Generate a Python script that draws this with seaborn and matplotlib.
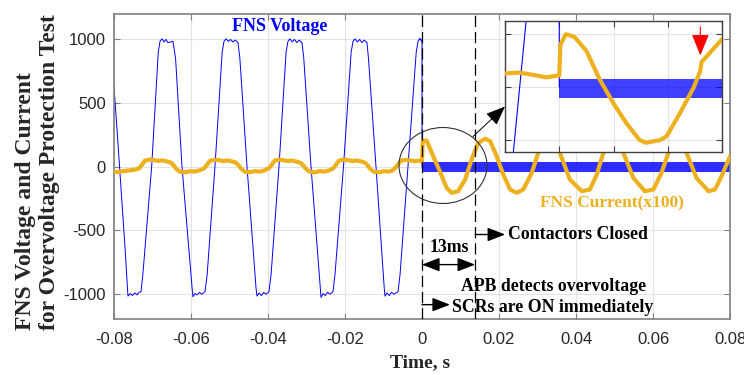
import numpy as np
import pandas as pd
import matplotlib
matplotlib.use("Agg")
import matplotlib.pyplot as plt
from matplotlib.patches import Ellipse
import seaborn as sns

# ---------------- data ----------------
volt_t = [-0.0800, -0.0790, -0.0780, -0.0770, -0.0765,
          -0.07636, -0.0758, -0.0752, -0.0746, -0.0740, -0.0735, -0.07299,
          -0.0725, -0.07021, -0.0685, -0.06805,
          -0.0675, -0.0670, -0.0665, -0.0660, -0.06468,
          -0.0640, -0.06234, -0.0597,
          -0.05948, -0.0590, -0.0584, -0.0578, -0.0572, -0.05636,
          -0.0558, -0.05377, -0.0519, -0.05143,
          -0.0509, -0.0503, -0.0497, -0.0491, -0.0485, -0.04779,
          -0.0473, -0.04545, -0.0431,
          -0.04286, -0.0423, -0.0417, -0.0411, -0.0405, -0.03974,
          -0.0392, -0.03714, -0.0353, -0.03481,
          -0.0343, -0.0337, -0.0331, -0.0325, -0.0319, -0.03117,
          -0.0307, -0.02883, -0.0264,
          -0.02623, -0.0257, -0.0251, -0.0245, -0.0239, -0.02312,
          -0.0226, -0.02039, -0.0184, -0.01792,
          -0.0174, -0.0168, -0.0162, -0.0156, -0.0150, -0.01429,
          -0.0139, -0.01195, -0.0098,
          -0.00961, -0.0091, -0.0085, -0.0079, -0.0073, -0.00623,
          -0.0057, -0.00364, -0.0015, -0.00104,
          -0.0006, -0.0002, 0.0, 0.0]
volt_v = [630, 200, -250, -700, -960,
          -1020, -1000, -1015, -995, -1010, -990, -985,
          -850, 0, 900, 985,
          1005, 980, 1000, 975, 985,
          850, 0, -960,
          -1025, -1000, -1010, -990, -1005, -985,
          -850, 0, 900, 985,
          1005, 985, 1000, 980, 995, 975,
          850, 0, -960,
          -1020, -995, -1015, -990, -1005, -985,
          -850, 0, 900, 985,
          1005, 980, 1000, 975, 995, 975,
          850, 0, -960,
          -1030, -1000, -1015, -990, -1005, -985,
          -850, 0, 900, 985,
          1005, 980, 1000, 975, 995, 975,
          850, 0, -960,
          -1020, -995, -1015, -990, -1005, -985,
          -850, 0, 900, 985,
          1010, 990, 1000, 0]

# noise band of the voltage after t = 0
noise_t = [0.0, 0.08]
noise_lo = [-40, -40]
noise_hi = [38, 38]

cur_t = [-0.0800, -0.0790, -0.0775, -0.0760, -0.0745,
         -0.0735, -0.0727, -0.0720, -0.0708, -0.0695, -0.0685, -0.0675, -0.0662, -0.0652,
         -0.0645, -0.0638, -0.0628, -0.0615, -0.0603, -0.0590, -0.0578,
         -0.0566, -0.0558, -0.0551, -0.0539, -0.0526, -0.0516, -0.0506, -0.0493, -0.0483,
         -0.0476, -0.0469, -0.0459, -0.0446, -0.0434, -0.0421, -0.0409,
         -0.0398, -0.0390, -0.0383, -0.0371, -0.0358, -0.0348, -0.0338, -0.0325, -0.0315,
         -0.0308, -0.0301, -0.0291, -0.0278, -0.0266, -0.0253, -0.0241,
         -0.0231, -0.0223, -0.0216, -0.0204, -0.0191, -0.0181, -0.0171, -0.0158, -0.0148,
         -0.0141, -0.0134, -0.0124, -0.0111, -0.0099, -0.0086, -0.0076,
         -0.0070, -0.0062, -0.0055, -0.0043, -0.0030, -0.0020, -0.0010, -0.0002,
         0.0000, 0.0002, 0.0012, 0.0029, 0.0047, 0.0064, 0.0077, 0.0094, 0.0112, 0.0129,
         0.0146, 0.0164, 0.0177, 0.0194, 0.0211, 0.0229, 0.0246, 0.0263, 0.0285, 0.0302,
         0.0318, 0.0335, 0.0345, 0.0358, 0.0384, 0.0415, 0.0436, 0.0454, 0.0471,
         0.0486, 0.0500, 0.0510, 0.0523, 0.0549, 0.0579, 0.0601, 0.0622, 0.0640,
         0.0655, 0.0668, 0.0677, 0.0687, 0.0713, 0.0744, 0.0761, 0.0778, 0.0800]
cur_v = [-42, -44, -36, -30, -25,
         -15, 15, 45, 55, 50, 44, 48, 40, 30,
         10, -20, -42, -45, -37, -40, -30,
         -15, 15, 45, 53, 50, 42, 47, 40, 30,
         8, -20, -43, -44, -36, -40, -30,
         -15, 15, 45, 55, 48, 43, 47, 38, 28,
         8, -20, -42, -46, -36, -40, -30,
         -15, 15, 45, 55, 50, 43, 47, 40, 30,
         8, -20, -43, -45, -37, -40, -30,
         -12, 18, 45, 52, 48, 42, 46, 42,
         42, 200, 205, 81, -42, -168, -207, -194, -102, 55,
         186, 218, 200, 81, -63, -181, -207, -181, -50, 108,
         195, 215, 200, 108, -102, -194, -181, -63, 108,
         195, 215, 195, 108, -90, -194, -181, -50, 108,
         195, 215, 195, 108, -90, -194, -181, -76, 80]

# inset (zoomed view) data
ins_volt_t = [-0.0046, -0.0027, -0.0001, 0.0, 0.0]
ins_volt_v = [-400, 400, 1000, 1000, 0]
ins_noise_t = [0.0, 0.015]
ins_noise_lo = [-42, -42]
ins_noise_hi = [30, 30]
ins_cur_t = [-0.0050, -0.0037, -0.0025, -0.0012, -0.0001, 0.0000, 0.0001, 0.0006, 0.0014,
             0.0025, 0.0037, 0.0050, 0.0062, 0.0074, 0.0080, 0.0093, 0.0099, 0.0111,
             0.0124, 0.0130, 0.0131, 0.0139, 0.0150]
ins_cur_v = [52, 55, 47, 37, 44, 44, 160, 200, 190,
             137, 31, -62, -137, -200, -210, -200, -185, -100,
             0, 62, 94, 131, 181]

xticks = [-0.08, -0.06, -0.04, -0.02, 0, 0.02, 0.04, 0.06, 0.08]
xtick_labels = ["-0.08", "-0.06", "-0.04", "-0.02", "0", "0.02", "0.04", "0.06", "0.08"]
yticks = [-1000, -500, 0, 500, 1000]
ytick_labels = ["-1000", "-500", "0", "500", "1000"]
ins_xticks = [-0.005, 0, 0.005, 0.01, 0.015]
ins_yticks = [-200, 0, 200]

# ---------------- style ----------------
sns.set_style("ticks")
plt.rcParams['font.family'] = ['Liberation Sans', 'DejaVu Sans']
plt.rcParams['axes.unicode_minus'] = False

BLUE = "#0000FF"
ORANGE = "#EDB120"
SPINE = "#808080"
GRID = "#E3E3E3"
SERIF = ['Liberation Serif', 'DejaVu Serif']
ANN = 12.8

fig = plt.figure(figsize=(7.44, 3.75), dpi=100)
ax = fig.add_axes([0.1532, 0.1493, 0.8280, 0.8133])

sns.lineplot(x=volt_t, y=volt_v, sort=False, estimator=None, color=BLUE, lw=0.7, ax=ax, zorder=2)
ax.fill_between(noise_t, noise_lo, noise_hi, color=BLUE, lw=0, alpha=0.82, zorder=2.5)
sns.lineplot(x=cur_t, y=cur_v, sort=False, estimator=None, color=ORANGE, lw=3.0, ax=ax, zorder=3)

ax.set_xlim(-0.08, 0.08)
ax.set_ylim(-1200, 1200)
ax.set_xticks(xticks)
ax.set_xticklabels(xtick_labels)
ax.set_yticks(yticks)
ax.set_yticklabels(ytick_labels)
ax.tick_params(direction='in', top=True, right=True, length=4, width=0.8, color=SPINE,
               labelsize=12, labelcolor='#262626')
ax.tick_params(axis='x', pad=9)
ax.tick_params(axis='y', pad=6)
ax.grid(True, color=GRID, lw=0.8, zorder=0)
ax.set_axisbelow(True)
for s in ax.spines.values():
    s.set_color(SPINE)
    s.set_linewidth(1.2)
ax.set_xlabel("")
ax.set_ylabel("")

# dashed event lines
ax.axvline(0.0, color='black', lw=0.9, ls=(0, (9, 4)), zorder=4)
ax.axvline(0.0138, color='black', lw=0.9, ls=(0, (9, 4)), zorder=4)

# texts
ax.text(-0.0370, 1102, "FNS Voltage", color=BLUE, family=SERIF, weight='bold',
        fontsize=13, ha='center', va='center', zorder=6)
ax.text(0.0494, -291, "FNS Current(x100)", color=ORANGE, family=SERIF, weight='bold',
        fontsize=12.5, ha='center', va='center', zorder=6)
ax.text(0.0223, -535, "Contactors Closed", color='black', family=SERIF, weight='bold',
        fontsize=ANN, ha='left', va='center', zorder=6)
ax.text(0.0070, -638, "13ms", color='black', family=SERIF, weight='bold',
        fontsize=ANN, ha='center', va='center', zorder=6)
ax.text(0.0343, -945, "APB detects overvoltage", color='black', family=SERIF, weight='bold',
        fontsize=ANN, ha='center', va='center', zorder=6)
ax.text(0.0340, -1110, "SCRs are ON immediately", color='black', family=SERIF, weight='bold',
        fontsize=ANN, ha='center', va='center', zorder=6)

arrow_kw = dict(arrowstyle="-|>,head_length=0.9,head_width=0.35", color='black', lw=1.0,
                mutation_scale=12, shrinkA=0, shrinkB=0)
ax.annotate("", xy=(0.0216, -535), xytext=(0.0138, -535), arrowprops=arrow_kw, zorder=6)
ax.annotate("", xy=(0.00727, -1087), xytext=(0.0, -1087), arrowprops=arrow_kw, zorder=6)
ax.annotate("", xy=(0.0138, -772), xytext=(0.0, -772),
            arrowprops=dict(arrowstyle="<|-|>,head_length=0.9,head_width=0.35", color='black',
                            lw=1.0, mutation_scale=12, shrinkA=0, shrinkB=0), zorder=6)
ax.annotate("", xy=(0.02156, 472), xytext=(0.01325, 236),
            arrowprops=dict(arrowstyle="-|>,head_length=1.0,head_width=0.4", color='black',
                            lw=0.7, mutation_scale=12, shrinkA=0, shrinkB=0), zorder=6)
ax.add_patch(Ellipse((0.00545, 8), 0.02286, 598, fill=False, ec='#333333', lw=0.8, zorder=6))

# axis labels
fig.text(0.0349, 0.464, "FNS Voltage and Current", rotation=90, family=SERIF, weight='bold',
         fontsize=17, ha='center', va='center')
fig.text(0.0672, 0.540, "for Overvoltage Protection Test", rotation=90, family=SERIF,
         weight='bold', fontsize=17, ha='center', va='center')
fig.text(0.5645, 0.032, "Time, s", family=SERIF, weight='bold', fontsize=14,
         ha='center', va='center')

# ---------------- inset ----------------
axi = fig.add_axes([0.6788, 0.5947, 0.2917, 0.3493])
axi.set_facecolor('white')
sns.lineplot(x=ins_volt_t, y=ins_volt_v, sort=False, estimator=None, color=BLUE, lw=0.8,
             ax=axi, zorder=2)
axi.fill_between(ins_noise_t, ins_noise_lo, ins_noise_hi, color=BLUE, lw=0,
                 alpha=0.75, zorder=2.5)
sns.lineplot(x=ins_cur_t, y=ins_cur_v, sort=False, estimator=None, color=ORANGE, lw=3.0,
             ax=axi, zorder=3)
axi.set_xlim(-0.005, 0.015)
axi.set_ylim(-245, 250)
axi.set_xticks(ins_xticks)
axi.set_yticks(ins_yticks)
axi.set_xticklabels([])
axi.set_yticklabels([])
axi.set_xlabel("")
axi.set_ylabel("")
axi.tick_params(direction='in', top=True, right=True, length=4, width=0.8, color='#404040')
axi.grid(True, color=GRID, lw=0.8, zorder=0)
axi.set_axisbelow(True)
for s in axi.spines.values():
    s.set_color('#404040')
    s.set_linewidth(1.0)
axi.annotate("", xy=(0.0130, 120), xytext=(0.0130, 228),
             arrowprops=dict(arrowstyle="-|>,head_length=1.1,head_width=0.45", color='red',
                             lw=0.8, mutation_scale=12, shrinkA=0, shrinkB=0), zorder=6)

fig.savefig("out.png", dpi=100)
